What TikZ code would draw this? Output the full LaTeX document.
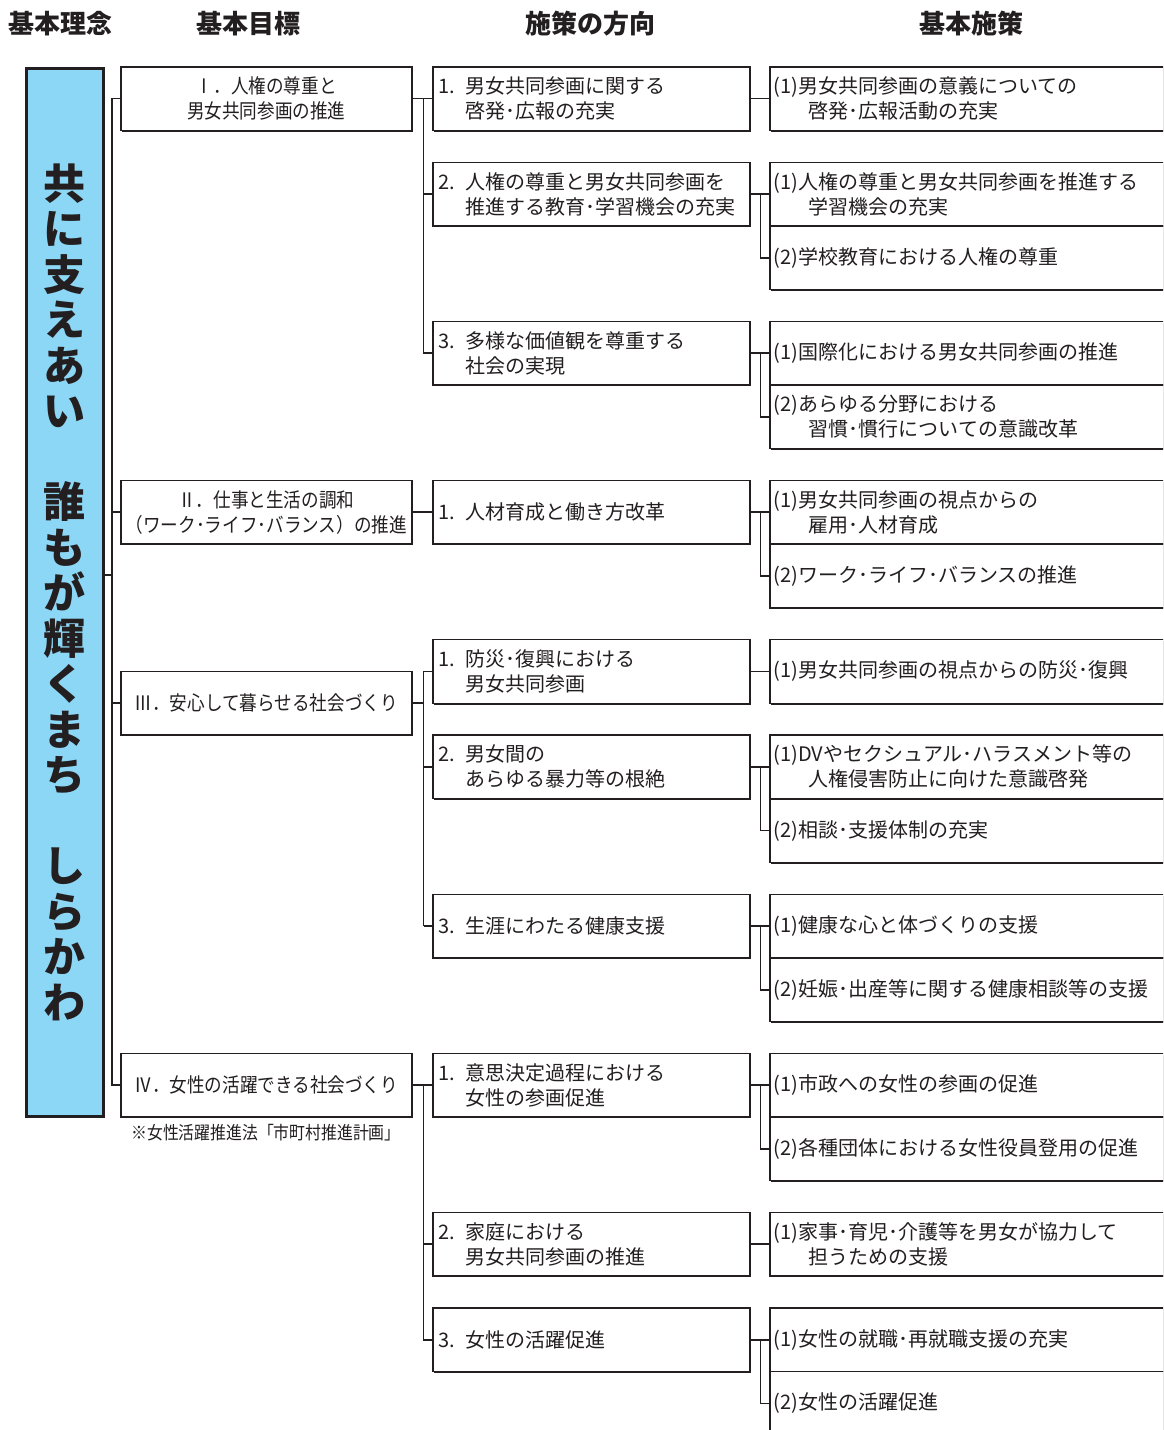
\documentclass[tikz,border=0pt]{standalone}
\usepackage{fontspec}
\setmainfont{Noto Sans CJK JP}
\newfontfamily\jpc[FakeStretch=0.88]{Noto Sans CJK JP}
\usetikzlibrary{shadows}
\definecolor{ink}{RGB}{35,31,32}
\definecolor{sky}{RGB}{140,215,245}
\newcommand\dtwo[3]{\makebox[27pt][l]{#1}#2\\\hspace*{27pt}#3}
\newcommand\done[2]{\makebox[27pt][l]{#1}#2}
\newcommand\ptwo[3]{#1#2\\\hspace*{35pt}#3}
\tikzset{
  box/.style={draw=ink, line width=1.5pt, fill=white, text=ink,
    drop shadow={shadow xshift=1.3pt, shadow yshift=-1.3pt, fill=ink, opacity=1},
    minimum height=63.65pt, inner ysep=0pt, anchor=north west,
    font=\fontsize{20}{25}\selectfont},
  gbox/.style={box, minimum width=291pt, text width=283pt, inner xsep=4pt, align=center,
    font=\jpc\fontsize{20}{25}\selectfont},
  dbox/.style={box, minimum width=317pt, text width=306pt, inner xsep=5.5pt, align=left},
  pbox/.style={box, minimum width=430pt, text width=423pt, inner xsep=4pt, align=left},
  conn/.style={draw=ink, line width=1.7pt},
  head/.style={text=ink, font=\bfseries\fontsize{26}{30}\selectfont}
}
\begin{document}
\begin{tikzpicture}[x=1pt,y=-1pt]
\useasboundingbox (0,0) rectangle (1163,1430);
\clip (0,0) rectangle (1163,1430);
\fill[white] (0,0) rectangle (1163,1430);

% headers
\node[head] (h1) at (61,24) {基本理念};
\node[head] (h2) at (248,24) {基本目標};
\node[head] (h3) at (590,24) {施策の方向};
\node[head] (h4) at (971,24) {基本施策};

% blue bar
\node[draw=ink, line width=3.5pt, fill=sky, minimum width=77pt, minimum height=1048pt,
  anchor=north west, inner sep=0pt, align=center, text=ink,
  font=\bfseries\fontsize{42}{45.5}\selectfont] (bar) at (24.5,66.5)
  {共\\に\\支\\え\\あ\\い\\\mbox{}\\誰\\も\\が\\輝\\く\\ま\\ち\\\mbox{}\\し\\ら\\か\\わ};

% goal boxes
\node[gbox] (g1) at (120,66) {Ⅰ．人権の尊重と\\男女共同参画の推進};
\node[gbox] (g2) at (120,479.7) {Ⅱ．仕事と生活の調和\\（ワーク･ライフ･バランス）の推進};
\node[gbox] (g3) at (120,670.7) {Ⅲ．安心して暮らせる社会づくり};
\node[gbox] (g4) at (120,1052.6) {Ⅳ．女性の活躍できる社会づくり};
\node[text=ink, font=\jpc\fontsize{18}{22}\selectfont] (note) at (266,1133) {※女性活躍推進法「市町村推進計画」};

% direction boxes
\node[dbox] (d11) at (432,66) {\dtwo{1.}{男女共同参画に関する}{啓発･広報の充実}};
\node[dbox] (d12) at (432,161.5) {\dtwo{2.}{人権の尊重と男女共同参画を}{推進する教育･学習機会の充実}};
\node[dbox] (d13) at (432,320.6) {\dtwo{3.}{多様な価値観を尊重する}{社会の実現}};
\node[dbox] (d21) at (432,479.7) {\done{1.}{人材育成と働き方改革}};
\node[dbox] (d31) at (432,638.9) {\dtwo{1.}{防災･復興における}{男女共同参画}};
\node[dbox] (d32) at (432,734.3) {\dtwo{2.}{男女間の}{あらゆる暴力等の根絶}};
\node[dbox] (d33) at (432,893.5) {\done{3.}{生涯にわたる健康支援}};
\node[dbox] (d41) at (432,1052.6) {\dtwo{1.}{意思決定過程における}{女性の参画促進}};
\node[dbox] (d42) at (432,1211.7) {\dtwo{2.}{家庭における}{男女共同参画の推進}};
\node[dbox] (d43) at (432,1307.2) {\done{3.}{女性の活躍促進}};

% policy boxes
\node[pbox] (p111) at (769,66) {\ptwo{(1)}{男女共同参画の意義についての}{啓発･広報活動の充実}};
\node[pbox] (p121) at (769,161.5) {\ptwo{(1)}{人権の尊重と男女共同参画を推進する}{学習機会の充実}};
\node[pbox] (p122) at (769,225.1) {(2)学校教育における人権の尊重};
\node[pbox] (p131) at (769,320.6) {(1)国際化における男女共同参画の推進};
\node[pbox] (p132) at (769,384.2) {\ptwo{(2)}{あらゆる分野における}{習慣･慣行についての意識改革}};
\node[pbox] (p211) at (769,479.7) {\ptwo{(1)}{男女共同参画の視点からの}{雇用･人材育成}};
\node[pbox] (p212) at (769,543.4) {(2)ワーク･ライフ･バランスの推進};
\node[pbox] (p311) at (769,638.9) {(1)男女共同参画の視点からの防災･復興};
\node[pbox] (p321) at (769,734.3) {\ptwo{(1)}{DVやセクシュアル･ハラスメント等の}{人権侵害防止に向けた意識啓発}};
\node[pbox] (p322) at (769,798.0) {(2)相談･支援体制の充実};
\node[pbox] (p331) at (769,893.5) {(1)健康な心と体づくりの支援};
\node[pbox] (p332) at (769,957.1) {(2)妊娠･出産等に関する健康相談等の支援};
\node[pbox] (p411) at (769,1052.6) {(1)市政への女性の参画の促進};
\node[pbox] (p412) at (769,1116.3) {(2)各種団体における女性役員登用の促進};
\node[pbox] (p421) at (769,1211.7) {\ptwo{(1)}{家事･育児･介護等を男女が協力して}{担うための支援}};
\node[pbox] (p431) at (769,1307.2) {(1)女性の就職･再就職支援の充実};
\node[pbox] (p432) at (769,1370.9) {(2)女性の活躍促進};

% trunk from bar to goals
\coordinate (tb) at (112,575);
\draw[conn] (g1.west) -- ++(-8,0) coordinate (t1) -- (t1 |- g4.west) -- (g4.west);
\draw[conn] (t1 |- g2.west) -- (g2.west);
\draw[conn] (t1 |- g3.west) -- (g3.west);
\draw[conn] (bar.east |- tb) -- (t1 |- tb);

% goals to directions
\draw[conn] (g1.east) -- (d11.west);
\coordinate (a1) at ([xshift=11pt]g1.east);
\draw[conn] (a1) -- (a1 |- d13.west) -- (d13.west);
\draw[conn] (a1 |- d12.west) -- (d12.west);

\draw[conn] (g2.east) -- (d21.west);

\coordinate (a3) at ([xshift=11pt]g3.east);
\draw[conn] (g3.east) -- (a3);
\draw[conn] (a3 |- d31.west) -- (a3 |- d33.west);
\draw[conn] (a3 |- d31.west) -- (d31.west);
\draw[conn] (a3 |- d32.west) -- (d32.west);
\draw[conn] (a3 |- d33.west) -- (d33.west);

\draw[conn] (g4.east) -- (d41.west);
\coordinate (a4) at ([xshift=11pt]g4.east);
\draw[conn] (a4) -- (a4 |- d43.west) -- (d43.west);
\draw[conn] (a4 |- d42.west) -- (d42.west);

% directions to policies
\draw[conn] (d11.east) -- (p111.west);
\draw[conn] (d12.east) -- (p121.west);
\draw[conn] ([xshift=10pt]d12.east) |- (p122.west);
\draw[conn] (d13.east) -- (p131.west);
\draw[conn] ([xshift=10pt]d13.east) |- (p132.west);
\draw[conn] (d21.east) -- (p211.west);
\draw[conn] ([xshift=10pt]d21.east) |- (p212.west);
\draw[conn] (d31.east) -- (p311.west);
\draw[conn] (d32.east) -- (p321.west);
\draw[conn] ([xshift=10pt]d32.east) |- (p322.west);
\draw[conn] (d33.east) -- (p331.west);
\draw[conn] ([xshift=10pt]d33.east) |- (p332.west);
\draw[conn] (d41.east) -- (p411.west);
\draw[conn] ([xshift=10pt]d41.east) |- (p412.west);
\draw[conn] (d42.east) -- (p421.west);
\draw[conn] (d43.east) -- (p431.west);
\draw[conn] ([xshift=10pt]d43.east) |- (p432.west);
\end{tikzpicture}
\end{document}
